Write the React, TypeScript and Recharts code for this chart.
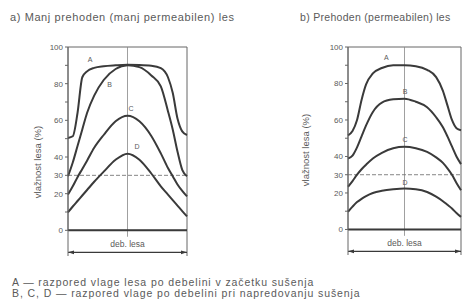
import { LineChart, Line, XAxis, YAxis, ReferenceLine, ReferenceArea, ReferenceDot } from "recharts"

// position across the board thickness (0 = one face, 1 = the other)
const pos = [0, 0.04, 0.08, 0.12, 0.16, 0.22, 0.3, 0.4, 0.5, 0.6, 0.7, 0.78, 0.84, 0.88, 0.92, 0.96, 1]

// a) less permeable wood
const leftA = [50.4, 51.3, 64, 83.5, 86.7, 88.6, 89.5, 90, 90.3, 90.2, 89.8, 88.5, 83.5, 75, 61, 54, 52]
const leftB = [29.5, 37, 46, 55, 64, 73.5, 82, 88, 90, 89, 84.5, 78.5, 65, 55, 43, 33, 29.5]
const leftC = [19.5, 24, 29, 33.5, 38, 45, 52, 59.5, 62.5, 59.5, 51.5, 42, 34, 29.5, 25, 21.5, 18.5]
const leftD = [9.8, 13, 16, 19, 22, 26.5, 32, 38.5, 41.8, 38.5, 31, 24, 19.5, 16.5, 13.5, 10.5, 7.6]

// b) permeable wood
const rightA = [51.6, 54, 60, 71, 79.5, 85.5, 88.5, 90, 90, 89.5, 87.5, 83.5, 76, 68, 60, 55.5, 54.4]
const rightB = [38.9, 40.5, 45, 51, 57, 64.4, 69.5, 71.3, 71.7, 70, 67, 61.5, 56, 51, 45.5, 40, 35.8]
const rightC = [23.4, 26.5, 30, 33, 35.5, 38.9, 42, 44.5, 45.3, 44.5, 42.5, 39.5, 36.5, 33.5, 30, 25.5, 21.5]
const rightD = [9.7, 12.5, 15, 16.8, 18.3, 20, 21.2, 22, 22.4, 22, 20.5, 18, 15.5, 13.5, 11.5, 9, 6.9]

const yTicks = [0, 10, 20, 30, 40, 50, 60, 70, 80, 90, 100]
const yLabels = [0, 20, 30, 40, 60, 80, 100]
const curveNames = ["A", "B", "C", "D"]

// where the curve letters sit (data coords)
const leftLetters = [
  { x: 0.185, y: 93 },
  { x: 0.35, y: 79.5 },
  { x: 0.53, y: 66.5 },
  { x: 0.58, y: 45.5 },
]
const rightLetters = [
  { x: 0.34, y: 94 },
  { x: 0.505, y: 75.5 },
  { x: 0.505, y: 49.5 },
  { x: 0.505, y: 25.8 },
]

const build = (series: number[][]) =>
  pos.map((p, i) => ({ pos: p, A: series[0][i], B: series[1][i], C: series[2][i], D: series[3][i] }))

const leftData = build([leftA, leftB, leftC, leftD])
const rightData = build([rightA, rightB, rightC, rightD])

const INK = "#3a3a3a"
const TXT = "#5a5a5a"

const DimLine = (props: any) => {
  const { x1, y1, x2, y2 } = props
  return (
    <g>
      <line x1={x1} y1={y1} x2={x2} y2={y2} stroke={INK} strokeWidth={1.3} />
      <polygon points={`${x1},${y1} ${x1 + 6},${y1 - 1.8} ${x1 + 6},${y1 + 1.8}`} fill={INK} />
      <polygon points={`${x2},${y2} ${x2 - 6},${y2 - 1.8} ${x2 - 6},${y2 + 1.8}`} fill={INK} />
    </g>
  )
}

function Panel({ data, letters, width, margin }: { data: any[]; letters: { x: number; y: number }[]; width: number; margin: any }) {
  return (
    <LineChart width={width} height={301} data={data} margin={margin}>
      <XAxis type="number" dataKey="pos" domain={[0, 1]} hide />
      <YAxis
        type="number"
        domain={[-14, 100]}
        ticks={yTicks}
        width={30}
        tickSize={3}
        tickMargin={2}
        interval={0}
        tickFormatter={(v: number) => (yLabels.includes(v) ? String(v) : "")}
        tick={{ fontSize: 8, fill: TXT }}
        stroke="#666"
      />
      <ReferenceArea x1={0} x2={1} y1={0} y2={100} fill="none" stroke="#666" strokeWidth={1} />
      <ReferenceLine segment={[{ x: 1, y: -14 }, { x: 1, y: 0 }]} stroke="#666" />
      <ReferenceLine segment={[{ x: 0.5, y: -3.5 }, { x: 0.5, y: 100 }]} stroke="#888" strokeWidth={0.8} />
      <ReferenceLine y={30} stroke="#777" strokeDasharray="4 2" strokeWidth={0.9} />
      <ReferenceLine y={0} stroke={INK} strokeWidth={2} />
      <ReferenceLine segment={[{ x: 0, y: -12 }, { x: 1, y: -12 }]} shape={DimLine} />
      <ReferenceDot x={0.5} y={-7.3} r={0} fill="none" stroke="none" label={{ value: "deb.  lesa", fill: TXT, fontSize: 8.5 }} />
      {curveNames.map((n) => (
        <Line key={n} type="monotone" dataKey={n} stroke={INK} strokeWidth={2} dot={false} isAnimationActive={false} />
      ))}
      {curveNames.map((n, i) => (
        <ReferenceDot key={"l" + n} x={letters[i].x} y={letters[i].y} r={0} fill="none" stroke="none" label={{ value: n, fill: TXT, fontSize: 7 }} />
      ))}
    </LineChart>
  )
}

const rot = (left: number, top: number): React.CSSProperties => ({
  position: "absolute",
  left,
  top,
  transform: "translate(-50%, -50%) rotate(-90deg)",
  whiteSpace: "nowrap",
  fontSize: 9.5,
})

export default function App() {
  return (
    <div
      style={{
        position: "absolute",
        left: 0,
        top: 0,
        width: 465,
        height: 301,
        background: "#fff",
        overflow: "hidden",
        fontFamily: '"Liberation Sans", Arial, sans-serif',
        color: TXT,
      }}
    >
      <div style={{ position: "absolute", left: 10, top: 11, fontSize: 11, whiteSpace: "nowrap", letterSpacing: 0.6 }}>
        a) Manj prehoden (manj permeabilen) les
      </div>
      <div style={{ position: "absolute", left: 300, top: 11, fontSize: 10.5, whiteSpace: "nowrap", letterSpacing: 0.3 }}>
        b) Prehoden (permeabilen) les
      </div>
      <div style={{ position: "absolute", left: 0, top: 0 }}>
        <Panel data={leftData} letters={leftLetters} width={240} margin={{ top: 47, right: 53, bottom: 45, left: 38 }} />
      </div>
      <div style={{ position: "absolute", left: 240, top: 0 }}>
        <Panel data={rightData} letters={rightLetters} width={225} margin={{ top: 47, right: 4, bottom: 46, left: 78 }} />
      </div>
      <div style={rot(37, 162)}>vlažnost lesa (%)</div>
      <div style={rot(305, 150)}>vlažnost lesa (%)</div>
      <div style={{ position: "absolute", left: 12, top: 277, fontSize: 10.5, lineHeight: "10.6px", whiteSpace: "nowrap", letterSpacing: 0.9 }}>
        A — razpored vlage lesa po debelini v začetku sušenja
        <br />
        B, C, D — razpored vlage po debelini pri napredovanju sušenja
      </div>
    </div>
  )
}
